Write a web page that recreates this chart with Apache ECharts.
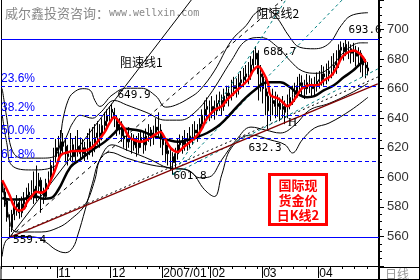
<!DOCTYPE html>
<html><head><meta charset="utf-8">
<script src="https://cdn.jsdelivr.net/npm/echarts@6/dist/echarts.min.js"></script>
<style>html,body{margin:0;padding:0;background:#fff}#c{width:420px;height:280px}</style>
</head><body><div id="c"></div>
<script>
// ---- data ----
const monthLabels = ['11','12','2007/01','02','03','04'];
const monthStarts = [23,45,66,86,107,130];
const categoryCount = 155;
const opens  = [597,590,584,572,566,575,580,583,576,582, 586,588,590,592,586,594,598,590,587,596, 600,608,614,620,618,624,621,616,614,622, 614,618,621,616,620,615,619,624,620,627, 630,628,635,638,642,646,644,640,632,636, 628,626,624,628,622,626,620,624,627,622, 628,632,627,630,634,632,626,622,616,618, 614,610,616,622,624,622,626,624,628,630, 632,630,636,642,646,648,644,648,645,650, 652,648,655,657,655,660,662,660,664,666, 668,670,669,676,680,684,670,668,660,655, 645,650,652,648,650,646,648,644,650,654, 656,658,662,664,662,660,664,663,660,662, 665,666,670,668,670,672,674,676,678,686, 688,685,690,687,684,686,682,684,678,676, 674];
const closes = [590,584,573,566,575,580,582,576,582,586, 588,590,592,586,594,598,590,587,596,600, 608,614,620,618,624,621,616,614,622,614, 618,621,616,620,615,619,624,620,627,630, 628,635,638,642,646,644,640,632,636,628, 626,624,628,622,626,620,624,627,622,628, 632,627,630,634,632,626,622,616,618,614, 610,616,622,624,622,626,624,628,630,632, 630,636,642,646,648,644,648,645,650,652, 648,655,657,655,660,662,660,664,666,668, 670,669,676,680,684,670,668,660,655,645, 650,652,648,650,646,648,644,650,654,656, 658,662,664,662,660,664,663,660,662,665, 666,670,668,670,672,674,676,678,686,688, 685,690,687,684,686,682,684,678,676,674, 672];
const lows   = [586,580,570,559.4,563,571,574,572,573,579, 580,584,585,582,584,590,576,582,585,592, 597,604,610,612,614,615,610,608,611,610, 611,614,612,613,611,612,615,614,617,622, 620,625,630,633,636,638,634,628,629,624, 620,618,620,616,618,614,616,620,616,618, 624,621,622,626,626,620,615,610,608,605, 601.8,606,612,617,616,618,618,620,622,625, 624,627,632,638,640,638,640,639,642,645, 642,645,650,648,652,655,654,656,660,661, 663,663,666,672,676,652,658,650,642,632.3, 638,642,640,641,638,640,636,640,646,649, 651,654,657,655,653,656,657,654,655,658, 660,662,662,663,665,667,669,670,674,680, 679,682,680,677,678,675,676,671,668,667, 669];
const highs  = [600,593,586,575,578,584,588,586,587,590, 593,596,598,604,608,603,600,593,599,604, 612,620,626,628,632,630,626,622,630,626, 628,632,627,626,624,630,633,634,636,638, 636,640,644,646,648,649.9,647,642,640,638, 633,630,634,630,629,628,630,632,630,633, 636,634,635,640,644,636,630,625,622,621, 617,620,626,629,628,632,630,634,636,638, 636,640,646,652,654,652,655,652,656,658, 656,660,662,662,666,668,667,670,672,674, 676,678,682,686,688.7,686,676,672,666,658, 656,660,658,656,654,655,652,656,660,662, 664,668,670,669,666,670,669,667,668,671, 672,676,675,677,679,682,684,686,690,692, 691,693.6,692,690,691,689,688,686,682,680, 678];
// indicator lines: [dayIndex, value]
const redLine = [[0,598],[3,588],[5,580],[7,577.4],[9,578.8],[10,582.8],[12,586.9],[14,590.2],[16,589.6],[18,591.6],[20,598.3],[22,606.4],[24,615],[27,617],[29,617.8],[32,617.8],[35,618.5],[37,620.5],[39,624],[42,630.6],[44,636.7],[46,640.7],[48,637.4],[50,633.3],[52,627.3],[54,625.3],[57,624],[60,626],[63,629.3],[65,630.6],[66,628.6],[69,619.9],[72,617.2],[74,619.9],[78,625.3],[81,630.6],[84,640],[87,645.5],[90,648.1],[92,652.2],[95,656.9],[98,661.6],[101,666.3],[103,672.4],[105,675],[107,671],[109,663.6],[110,655.6],[113,653.5],[115,650.8],[117,648.1],[119,650.8],[121,655.6],[123,660.3],[126,662.3],[129,662.3],[132,665.7],[135,669],[137,673.7],[139,680.5],[141,683.8],[144,685.9],[146,684.5],[148,681.1],[149,677.8]];
const blackLine = [[0,586],[3,585],[8,585],[13,587.5],[17,585.5],[20,586],[23,591.6],[28,607],[32,612],[37,618.5],[42,624],[46,630],[48,633],[52,632.7],[57,631.3],[61,628.6],[65,626.6],[68,625.3],[72,624],[76,625.3],[80,627.3],[84,630],[88,634],[92,640],[95,645.5],[98,650.8],[101,655.6],[105,661],[107,663.6],[110,664.3],[114,664.3],[118,661],[122,655.6],[125,654.2],[128,654.9],[132,659],[136,662.3],[140,667.7],[144,672.4],[147,677],[149,679]];
const upperOuter = [[0,660],[2,638.7],[4,618.5],[8,613],[16,613],[22,615],[25,640],[27,652],[29,657],[33,660],[36,659],[38,652],[40,648],[45,655.6],[51,660.3],[57,660.3],[63,655],[67,647.5],[71,648.8],[77,654],[81,659],[87,672],[94,692.6],[100,702.7],[104,711.4],[108,714],[112,709.4],[118,694.6],[122,688],[128,687],[134,690.6],[139,702.7],[143,709.4],[150,711.4]];
const upperInner = [[0,642],[2,622],[4,608],[12,605],[22,608],[24,618],[27,630],[29,637],[32,642],[37,640],[40,643.4],[46,652],[51,649],[59,644],[67,638.7],[73,638.7],[79,644],[85,655.6],[94,679],[100,692.6],[106,694.6],[113,688],[118,679],[123,672],[129,670.4],[134,673.7],[141,686],[147,691],[150,691]];
const lowerInner = [[0,598],[2,578],[6,563],[16,563],[23,566],[28,571.4],[34,581.5],[38,598.3],[40,611.8],[45,622],[51,618.5],[61,611.8],[68,606.4],[76,605],[81,599.7],[85,600.3],[90,611.8],[96,625.3],[102,634],[108,632],[114,630],[120,635.4],[126,645.5],[134,650],[143,657],[150,663.6]];
const lowerOuter = [[0,546.5],[2,558],[8,560],[14,559.4],[18,556],[22,551],[26,549],[29,552.5],[31,561],[34,578],[37,596],[40,611.8],[44,617],[51,613],[61,608.4],[69,606.4],[77,604],[83,591.6],[87,587],[90,601.7],[94,620],[102,628.6],[110,625.3],[116,622],[119,616.5],[123,625.3],[128,633.3],[134,636.7],[143,645.5],[150,654.2]];
// pivots (day indices of the marked highs / lows)
const pivotHighs = [45,104,141];
const pivotLows = [3,70,109];
const speedFanA = [3,45];   // low day, high day  (阻速线1)
const speedFanB = [70,104]; // low day, high day  (阻速线2)
const trendLineLows = [3,109];
const fibRatios = [0.236,0.382,0.5,0.618];
const notes = [{i:57,v:678,text:'阻速线1'},{i:113,v:710.6,text:'阻速线2'},{i:119,v:637,text:'H'}];
const stampText = '国际现\n货金价\n日K线2';

// ---- chart ----
const N = categoryCount;
const categories = Array.from({length:N}, (_, i) => 'D' + i);
const monthAt = {}; monthStarts.forEach((s, k) => { monthAt[s] = monthLabels[k]; });
const candle = opens.map((o, i) => [o, closes[i], lows[i], highs[i]]);
const hi = Math.max(...highs), lo = Math.min(...lows);

function ray(i0, v0, i1, v1, frac) {
  const slope = frac * (v1 - v0) / (i1 - i0);
  const iEnd = N - 1;
  return [[i0, v0], [iEnd, v0 + slope * (iEnd - i0)]];
}
function lineSeries(data, color, width, type, smooth) {
  return {type:'line', data, symbol:'none', smooth: smooth || false, silent:true, clip:true,
    lineStyle:{color, width, type: type || 'solid'}, z: 3, animation:false};
}
const fanA = [lows[speedFanA[0]], highs[speedFanA[1]]];
const fanB = [lows[speedFanB[0]], highs[speedFanB[1]]];

const series = [
  {type:'candlestick', data:candle, barWidth:'55%', silent:true, animation:false, z:2,
   itemStyle:{color:'#000', color0:'#000', borderColor:'#000', borderColor0:'#000', borderWidth:1},
   markLine:{silent:true, symbol:'none', animation:false,
     data:[
       {yAxis:hi, lineStyle:{color:'#0000ff', type:'solid', width:1}, label:{show:false}},
       {yAxis:lo, lineStyle:{color:'#0000ff', type:'solid', width:1}, label:{show:false}}
     ].concat(fibRatios.map(r => ({yAxis: hi - r * (hi - lo),
       lineStyle:{color:'#0000ff', type:[4,3], width:1},
       label:{show:true, position:'insideStartTop', distance:[0,1], formatter:(r*100).toFixed(1)+'%',
         color:'#0000ff', fontSize:12, fontFamily:'Liberation Sans'}})))
   },
   markPoint:{silent:true, animation:false, symbol:'rect', symbolSize:1, itemStyle:{color:'rgba(0,0,0,0)'},
     label:{show:true, color:'#000', fontSize:11, fontFamily:'DejaVu Sans Mono'},
     data:[
       {coord:[categories[pivotHighs[0]], highs[pivotHighs[0]]], value:highs[pivotHighs[0]], label:{position:'right', distance:5, offset:[0,-8]}},
       {coord:[categories[pivotHighs[1]], highs[pivotHighs[1]]], value:highs[pivotHighs[1]], label:{position:'right', distance:7, offset:[0,6]}},
       {coord:[categories[pivotHighs[2]], highs[pivotHighs[2]]], value:highs[pivotHighs[2]], label:{position:'right', distance:2, offset:[0,-9]}},
       {coord:[categories[pivotLows[0]], lows[pivotLows[0]]], value:lows[pivotLows[0]], label:{position:'right', distance:3, offset:[0,3]}},
       {coord:[categories[pivotLows[1]], lows[pivotLows[1]]], value:lows[pivotLows[1]], label:{position:'right', distance:0, offset:[0,1]}},
       {coord:[categories[pivotLows[2]], lows[pivotLows[2]]], value:lows[pivotLows[2]], label:{position:'bottom', distance:13, offset:[-3,0]}},
       {coord:[categories[notes[0].i], notes[0].v], value:notes[0].text, label:{position:'inside', fontFamily:'Noto Sans CJK SC', fontSize:12}},
       {coord:[categories[notes[1].i], notes[1].v], value:notes[1].text, label:{position:'inside', fontFamily:'Noto Sans CJK SC', fontSize:12}},
       {coord:[categories[notes[2].i], notes[2].v], value:notes[2].text, label:{position:'inside', fontFamily:'Liberation Serif', fontSize:13}}
     ]}
  },
  lineSeries(upperOuter, '#000', 1, 'solid', 0.4),
  lineSeries(upperInner, '#000', 1, 'solid', 0.4),
  lineSeries(lowerInner, '#000', 1, 'solid', 0.4),
  lineSeries(lowerOuter, '#000', 1, 'solid', 0.4),
  // speed resistance fan 1
  lineSeries(ray(speedFanA[0], fanA[0], speedFanA[1], fanA[1], 1), '#000', 1, 'solid'),
  lineSeries(ray(speedFanA[0], fanA[0], speedFanA[1], fanA[1], 2/3), '#000', 1, [4,4]),
  lineSeries(ray(speedFanA[0], fanA[0], speedFanA[1], fanA[1], 1/3), '#000', 1, [2,3]),
  // speed resistance fan 2
  lineSeries(ray(speedFanB[0], fanB[0], speedFanB[1], fanB[1], 1), '#008080', 1, [3,3]),
  lineSeries(ray(speedFanB[0], fanB[0], speedFanB[1], fanB[1], 2/3), '#008080', 1, [3,3]),
  lineSeries(ray(speedFanB[0], fanB[0], speedFanB[1], fanB[1], 1/3), '#008080', 1, [3,3]),
  // trend line through the two lows
  lineSeries(ray(trendLineLows[0], lows[trendLineLows[0]], trendLineLows[1], lows[trendLineLows[1]], 1), '#800000', 1.2, 'solid'),
  lineSeries(blackLine, '#000', 2.5, 'solid', 0.4),
  lineSeries(redLine, '#ff0000', 2.5, 'solid', 0.4)
];

const isMonthStart = (idx) => monthAt[idx] !== undefined;
const option = {
  animation:false,
  textStyle:{fontFamily:'Liberation Sans'},
  grid:{left:1, right:41, top:0, bottom:13, containLabel:false},
  xAxis:[
    {type:'category', data:categories, boundaryGap:true, position:'bottom',
     axisLine:{show:true, lineStyle:{color:'#000', width:1}},
     axisTick:{show:true, interval:(idx) => isMonthStart(idx), length:12, lineStyle:{color:'#000'}},
     axisLabel:{show:true, interval:(idx) => isMonthStart(idx), formatter:(v, idx) => monthAt[idx] || '',
       align:'left', margin:2, color:'#000', fontSize:12, fontFamily:'Liberation Sans'},
     splitLine:{show:false}},
    {type:'category', data:categories, boundaryGap:true, position:'bottom', offset:0,
     axisLine:{show:false}, axisLabel:{show:false},
     axisTick:{show:true, interval:(idx) => idx % 5 === 0, length:3, lineStyle:{color:'#000'}},
     splitLine:{show:false}}
  ],
  yAxis:[
    {type:'value', position:'right', min:540, max:720, interval:20, scale:false,
     axisLine:{show:true, lineStyle:{color:'#000', width:2}},
     axisTick:{show:true, length:5, lineStyle:{color:'#000'}},
     minorTick:{show:true, splitNumber:4, length:3, lineStyle:{color:'#000'}},
     axisLabel:{show:true, showMinLabel:false, showMaxLabel:false, margin:8, color:'#333', fontSize:13, fontFamily:'Liberation Sans'},
     splitLine:{show:false}},
    {type:'value', position:'left', min:540, max:720, interval:20,
     axisLine:{show:true, lineStyle:{color:'#000', width:1}}, axisTick:{show:false}, axisLabel:{show:false}, splitLine:{show:false}}
  ],
  series: series,
  graphic:[
    {type:'text', left:5, top:7, silent:true, style:{text:'威尔鑫投资咨询：{u|www.wellxin.com}', fill:'#888', font:'13px "Noto Sans CJK SC"',
      rich:{u:{fontFamily:'DejaVu Sans Mono', fontSize:10, fill:'#888'}}}},
    {type:'group', left:268, top:173, silent:true, children:[
      {type:'rect', shape:{x:0, y:0, width:60, height:53}, style:{fill:'#ff0000'}},
      {type:'rect', shape:{x:3, y:3, width:54, height:47}, style:{fill:'#fff'}},
      {type:'text', x:30, y:27, style:{text:stampText, fill:'#ff0000', fontFamily:'Noto Sans CJK SC', fontSize:13, fontWeight:'bold', align:'center', verticalAlign:'middle', lineHeight:15}}
    ]},
    {type:'text', left:385, top:268, silent:true, style:{text:'日线', fill:'#999', font:'12px "Noto Sans CJK SC"'}},
    {type:'line', silent:true, shape:{x1:379, y1:267.5, x2:420, y2:267.5}, style:{stroke:'#000', lineWidth:1}},
    {type:'line', silent:true, shape:{x1:0, y1:279.5, x2:420, y2:279.5}, style:{stroke:'#000', lineWidth:1}},
    {type:'line', silent:true, shape:{x1:419.5, y1:0, x2:419.5, y2:280}, style:{stroke:'#000', lineWidth:1}},
    {type:'line', silent:true, shape:{x1:379, y1:267, x2:379, y2:280}, style:{stroke:'#000', lineWidth:2}},
    {type:'line', silent:true, shape:{x1:1, y1:267, x2:1, y2:280}, style:{stroke:'#000', lineWidth:1}}
  ]
};
const chart = echarts.init(document.getElementById('c'), null, {renderer:'canvas'});
chart.setOption(option);
</script></body></html>
